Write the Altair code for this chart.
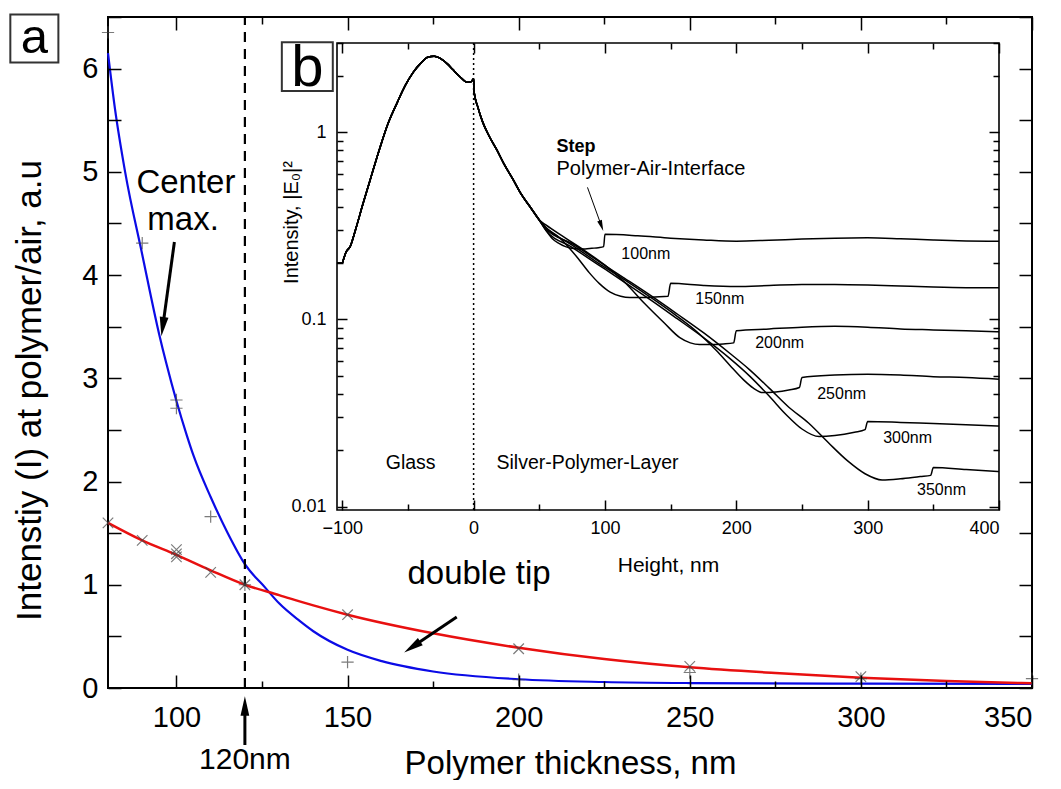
import altair as alt
import pandas as pd

FONT = "Liberation Sans"

# ---------------- panel (a): intensity vs polymer thickness ----------------
blue_x = [80, 82, 85, 90, 95, 97, 100, 103, 105, 110, 115, 120, 126, 130, 136, 140, 150, 160, 175, 200, 225, 250, 300, 350]
blue_y = [6.15, 5.62, 5.0, 4.2, 3.42, 3.15, 2.78, 2.45, 2.25, 1.85, 1.5, 1.2, 0.97, 0.82, 0.65, 0.55, 0.37, 0.26, 0.16, 0.085, 0.058, 0.048, 0.042, 0.04]
red_x = [80, 90, 100, 110, 120, 130, 140, 150, 175, 200, 225, 250, 275, 300, 325, 350]
red_y = [1.6, 1.43, 1.29, 1.14, 1.0, 0.9, 0.8, 0.71, 0.53, 0.39, 0.28, 0.2, 0.145, 0.1, 0.068, 0.045]
plus_x = [80, 90, 100, 100, 110, 120, 150, 200, 250, 300, 350]
plus_y = [6.35, 4.31, 2.79, 2.71, 1.66, 1.0, 0.25, 0.08, 0.15, 0.09, 0.09]
cross_x = [80, 90, 100, 100, 100, 110, 120, 150, 200, 250, 300]
cross_y = [1.6, 1.43, 1.34, 1.30, 1.27, 1.12, 1.0, 0.71, 0.38, 0.21, 0.11]
main_xticks = [100, 150, 200, 250, 300, 350]
main_xminor = [125, 175, 225, 275, 325]
main_ylabels = [0, 1, 2, 3, 4, 5, 6]
main_yticks = [0, 0.5, 1, 1.5, 2, 2.5, 3, 3.5, 4, 4.5, 5, 5.5, 6, 6.5]

# ---------------- panel (b): field intensity vs height ----------------
glass_x = [-104, -100, -99, -97, -94, -90, -84, -78, -71, -65, -58, -52, -46, -40, -35, -30, -26, -20, -16, -10, -5, -2, 0, 0.5, 3, 7, 12, 17.5, 23, 30, 36, 43, 50]
glass_y = [0.20, 0.20, 0.21, 0.23, 0.245, 0.30, 0.42, 0.58, 0.84, 1.12, 1.45, 1.78, 2.09, 2.35, 2.52, 2.55, 2.50, 2.32, 2.17, 1.97, 1.85, 1.86, 1.93, 1.62, 1.38, 1.13, 0.95, 0.81, 0.68, 0.56, 0.47, 0.40, 0.34]
series_names = ["100nm", "150nm", "200nm", "250nm", "300nm", "350nm"]
c100_x = [55, 60, 65, 70, 75, 80, 85, 90, 95, 99, 100, 125, 150, 175, 200, 225, 250, 275, 300, 325, 350, 375, 400]
c100_y = [0.30, 0.27, 0.255, 0.245, 0.24, 0.238, 0.238, 0.24, 0.242, 0.245, 0.285, 0.28, 0.272, 0.266, 0.262, 0.265, 0.269, 0.272, 0.273, 0.27, 0.266, 0.263, 0.262]
c150_x = [55, 65, 72, 80, 88, 96, 104, 112, 119, 128, 138, 148, 150, 175, 200, 225, 250, 275, 300, 325, 350, 375, 400]
c150_y = [0.31, 0.275, 0.245, 0.21, 0.178, 0.155, 0.14, 0.133, 0.131, 0.131, 0.132, 0.133, 0.156, 0.152, 0.150, 0.152, 0.154, 0.154, 0.153, 0.151, 0.149, 0.148, 0.148]
c200_x = [55, 70, 85, 100, 115, 130, 145, 157, 165, 172, 180, 190, 198, 200, 225, 250, 275, 300, 325, 350, 375, 400]
c200_y = [0.32, 0.272, 0.232, 0.195, 0.158, 0.122, 0.096, 0.08, 0.075, 0.0735, 0.0735, 0.074, 0.075, 0.087, 0.089, 0.091, 0.092, 0.091, 0.089, 0.088, 0.087, 0.086]
c250_x = [55, 75, 95, 115, 135, 155, 170, 185, 195, 205, 213, 220, 230, 240, 248, 250, 275, 300, 325, 350, 375, 400]
c250_y = [0.31, 0.25, 0.2, 0.163, 0.131, 0.104, 0.086, 0.068, 0.057, 0.048, 0.043, 0.0407, 0.041, 0.042, 0.0433, 0.049, 0.0505, 0.051, 0.0505, 0.0495, 0.049, 0.048]
c300_x = [55, 75, 95, 115, 135, 155, 175, 195, 210, 225, 238, 250, 263, 275, 290, 298, 300, 325, 350, 375, 400]
c300_y = [0.30, 0.243, 0.196, 0.158, 0.127, 0.101, 0.08, 0.062, 0.05, 0.039, 0.031, 0.026, 0.0237, 0.024, 0.025, 0.0258, 0.0285, 0.0282, 0.0278, 0.0274, 0.027]
c350_x = [55, 75, 95, 115, 135, 155, 175, 195, 210, 225, 240, 255, 270, 285, 298, 311, 325, 340, 348, 350, 375, 400]
c350_y = [0.305, 0.254, 0.205, 0.166, 0.134, 0.107, 0.085, 0.066, 0.054, 0.043, 0.034, 0.028, 0.022, 0.0175, 0.0150, 0.0139, 0.0141, 0.0145, 0.0147, 0.0162, 0.0158, 0.0154]
inset_xlabels = [-100, 0, 100, 200, 300, 400]
inset_xminor = [-50, 50, 150, 250, 350]
inset_ylabels = [0.01, 0.1, 1]
inset_yminor = [0.02, 0.03, 0.04, 0.05, 0.06, 0.07, 0.08, 0.09, 0.2, 0.3, 0.4, 0.5, 0.6, 0.7, 0.8, 0.9, 2, 3]

# ---------------- geometry ----------------
W, H = 924, 671
MX = alt.Scale(domain=[80, 350], nice=False, zero=False)
MY = alt.Scale(domain=[0, 6.5], nice=False, zero=False)
IXR = [229, 891]
IYR = [493, 26]
IX = alt.Scale(domain=[-104, 400], range=IXR, nice=False, zero=False)
IY = alt.Scale(type="log", domain=[0.0096, 3.0], range=IYR, nice=False)


def tick_axis(orient, offset, values, size):
    return alt.Axis(orient=orient, offset=offset, values=values, tickSize=size, ticks=True,
                    labels=False, domain=False, title=None, grid=False, tickColor="black",
                    tickWidth=1.5, zindex=2)


def axis_layer(df, xs, ys, xaxis, yaxis):
    return alt.Chart(df).mark_point(opacity=0).encode(
        x=alt.X("x:Q", scale=xs, axis=xaxis),
        y=alt.Y("y:Q", scale=ys, axis=yaxis),
    )


main_anchor = pd.DataFrame({"x": [200], "y": [3]})
inset_anchor = pd.DataFrame({"x": [100], "y": [0.1]})

# ---------------- main panel layers ----------------
df_blue = pd.DataFrame({"x": blue_x, "y": blue_y})
df_red = pd.DataFrame({"x": red_x, "y": red_y})
df_plus = pd.DataFrame({"x": plus_x, "y": plus_y})
df_cross = pd.DataFrame({"x": cross_x, "y": cross_y})

main_x_axis = alt.Axis(orient="bottom", values=main_xticks, ticks=False, tickSize=0, domain=False,
                       labelFontSize=29, labelFont=FONT, labelPadding=15, labelColor="black",
                       title="Polymer thickness, nm", titleFont=FONT, titleFontSize=33,
                       titleFontWeight="normal", titleColor="black", titleY=85,
                       titleBaseline="alphabetic", grid=False, zindex=2)
main_y_axis = alt.Axis(orient="left", values=main_ylabels, format="d", ticks=False, tickSize=0, domain=False,
                       labelFontSize=29, labelFont=FONT, labelPadding=10, labelColor="black",
                       title="Intenstiy (I) at polymer/air, a.u", titleFont=FONT, titleFontSize=35,
                       titleFontWeight="normal", titleColor="black", titleX=-79, titleY=373,
                       titleBaseline="middle", grid=False, zindex=2)

blue = alt.Chart(df_blue).mark_line(color="#0b0be6", strokeWidth=2.2, interpolate="monotone").encode(
    x=alt.X("x:Q", scale=MX, axis=main_x_axis),
    y=alt.Y("y:Q", scale=MY, axis=main_y_axis),
)
red = alt.Chart(df_red).mark_line(color="#e81010", strokeWidth=2.5, interpolate="monotone").encode(
    x="x:Q", y="y:Q")
PLUS = "M-1,0L1,0M0,-1L0,1"
CROSS = "M-1,-1L1,1M-1,1L1,-1"
plus = alt.Chart(df_plus).mark_point(shape=PLUS, filled=False, size=150, color="#444444", strokeWidth=1.2).encode(
    x="x:Q", y="y:Q")
cross = alt.Chart(df_cross).mark_point(shape=CROSS, filled=False, size=110, color="#444444", strokeWidth=1.2).encode(
    x="x:Q", y="y:Q")

vline = alt.Chart(pd.DataFrame({"x": [120], "y": [0], "y2": [6.5]})).mark_rule(
    color="black", strokeWidth=2.2, strokeDash=[10, 7]).encode(x="x:Q", y="y:Q", y2="y2:Q")

main_arrows = pd.DataFrame({
    "x": [99.4, 181.9, 120], "y": [4.32, 0.687, -0.552],
    "x2": [96.0, 168.9, 120], "y2": [3.50, 0.397, -0.174],
})
main_heads = pd.DataFrame({"x": [96.0, 168.9, 120], "y": [3.50, 0.397, -0.174], "a": [188, 236, 0]})
HEAD = "M0,-1L0.45,1L-0.45,1Z"
arrows = alt.Chart(main_arrows).mark_rule(color="black", strokeWidth=3).encode(
    x="x:Q", y="y:Q", x2="x2:Q", y2="y2:Q")
heads = alt.Chart(main_heads).mark_point(shape=HEAD, filled=True, size=380, color="black", opacity=1).encode(
    x="x:Q", y="y:Q", angle=alt.Angle("a:Q", scale=None))

main_text = pd.DataFrame({
    "x": [88.3, 91.5, 167.5],
    "y": [4.89, 4.53, 1.10],
    "t": ["Center", "max.", "double tip"],
})
texts_l = alt.Chart(main_text).mark_text(align="left", baseline="middle", fontSize=33, font=FONT,
                                         color="black").encode(x="x:Q", y="y:Q", text="t:N")
texts_c = alt.Chart(pd.DataFrame({"x": [120], "y": [-0.70], "t": ["120nm"]})).mark_text(
    align="center", baseline="middle", fontSize=30, font=FONT, color="black").encode(
    x="x:Q", y="y:Q", text="t:N")

box_a = alt.Chart(pd.DataFrame({"x": [51.46], "x2": [65.5], "y": [6.06], "y2": [6.525]})).mark_rect(
    fill="white", stroke="#333333", strokeWidth=2).encode(x="x:Q", x2="x2:Q", y="y:Q", y2="y2:Q")
text_a = alt.Chart(pd.DataFrame({"x": [58.48], "y": [6.147], "t": ["a"]})).mark_text(
    align="center", baseline="alphabetic", fontSize=49, font=FONT, color="black").encode(
    x="x:Q", y="y:Q", text="t:N")

M = alt.layer(blue, red, vline, plus, cross, arrows, heads, texts_l, texts_c, box_a, text_a)

T1 = axis_layer(main_anchor, MX, MY, tick_axis("top", -H, main_xticks, 13), tick_axis("right", -W, main_yticks, 13))
T2 = axis_layer(main_anchor, MX, MY, tick_axis("bottom", -H, main_xticks, 13), tick_axis("left", -W, main_yticks, 13))
T3 = axis_layer(main_anchor, MX, MY, tick_axis("top", -H, main_xminor, 7), None)
T4 = axis_layer(main_anchor, MX, MY, tick_axis("bottom", -H, main_xminor, 7), None)

# ---------------- inset layers ----------------
rows = []
curves = [(c100_x, c100_y), (c150_x, c150_y), (c200_x, c200_y), (c250_x, c250_y), (c300_x, c300_y), (c350_x, c350_y)]
for name, (cx, cy) in zip(series_names, curves):
    xs = glass_x + cx
    ys = glass_y + cy
    for i, (a, b) in enumerate(zip(xs, ys)):
        rows.append({"x": a, "y": b, "s": name, "o": i})
df_inset = pd.DataFrame(rows)

inset_x_axis = alt.Axis(orient="bottom", offset=-(H - IYR[0]), values=inset_xlabels, ticks=False, tickSize=0,
                        domain=False, labelFontSize=18, labelFont=FONT, labelPadding=9, labelColor="black",
                        title="Height, nm", titleFont=FONT, titleFontSize=21, titleFontWeight="normal",
                        titleColor="black", titleY=55, titleBaseline="middle", grid=False, zindex=2)
inset_y_axis = alt.Axis(orient="left", offset=-IXR[0], values=inset_ylabels, format="~g", ticks=False,
                        tickSize=0, domain=False, labelFontSize=18, labelFont=FONT, labelPadding=11,
                        labelColor="black", title="Intensity, |E₀|²", titleFont=FONT, titleFontSize=20,
                        titleFontWeight="normal", titleColor="black", titleX=-46, titleY=205,
                        titleBaseline="middle", grid=False, zindex=2)

frame = alt.Chart(pd.DataFrame({"x": [-104], "x2": [400], "y": [0.0096], "y2": [3.0]})).mark_rect(
    fill="white", stroke="black", strokeWidth=1.6).encode(
    x=alt.X("x:Q", scale=IX, axis=inset_x_axis),
    x2="x2:Q",
    y=alt.Y("y:Q", scale=IY, axis=inset_y_axis),
    y2="y2:Q",
)
inset_lines = alt.Chart(df_inset).mark_line(color="black", strokeWidth=1.5, interpolate="monotone").encode(
    x="x:Q", y="y:Q", detail="s:N", order="o:Q")
dotted = alt.Chart(pd.DataFrame({"x": [0], "y": [0.0096], "y2": [3.0]})).mark_rule(
    color="black", strokeWidth=1.5, strokeDash=[2, 3]).encode(x="x:Q", y="y:Q", y2="y2:Q")

inset_lbl = pd.DataFrame({
    "x": [112.5, 168.8, 214.4, 261.6, 311.8, 337.6],
    "y": [0.223, 0.128, 0.0745, 0.0402, 0.0234, 0.0123],
    "t": series_names,
})
lbls = alt.Chart(inset_lbl).mark_text(align="left", baseline="middle", fontSize=16, font=FONT,
                                      color="black").encode(x="x:Q", y="y:Q", text="t:N")
region = alt.Chart(pd.DataFrame({"x": [-47.9, 86.7], "y": [0.0172, 0.0172],
                                 "t": ["Glass", "Silver-Polymer-Layer"]})).mark_text(
    align="center", baseline="middle", fontSize=19.5, font=FONT, color="black").encode(
    x="x:Q", y="y:Q", text="t:N")
step_b = alt.Chart(pd.DataFrame({"x": [63.1], "y": [0.83], "t": ["Step"]})).mark_text(
    align="left", baseline="middle", fontSize=18, font=FONT, fontWeight="bold", color="black").encode(
    x="x:Q", y="y:Q", text="t:N")
step_t = alt.Chart(pd.DataFrame({"x": [63.1], "y": [0.634], "t": ["Polymer-Air-Interface"]})).mark_text(
    align="left", baseline="middle", fontSize=20, font=FONT, color="black").encode(
    x="x:Q", y="y:Q", text="t:N")
step_arrow = alt.Chart(pd.DataFrame({"x": [86.7], "y": [0.508], "x2": [97.3], "y2": [0.3165]})).mark_rule(
    color="black", strokeWidth=1).encode(x="x:Q", y="y:Q", x2="x2:Q", y2="y2:Q")
step_head = alt.Chart(pd.DataFrame({"x": [97.3], "y": [0.3165], "a": [160]})).mark_point(
    shape=HEAD, filled=True, size=120, color="black", opacity=1).encode(
    x="x:Q", y="y:Q", angle=alt.Angle("a:Q", scale=None))
box_b = alt.Chart(pd.DataFrame({"x": [-146.0], "x2": [-107.2], "y": [1.66], "y2": [3.03]})).mark_rect(
    fill="white", stroke="#333333", strokeWidth=2).encode(x="x:Q", x2="x2:Q", y="y:Q", y2="y2:Q")
text_b = alt.Chart(pd.DataFrame({"x": [-126.6], "y": [1.76], "t": ["b"]})).mark_text(
    align="center", baseline="alphabetic", fontSize=58, font=FONT, color="black").encode(
    x="x:Q", y="y:Q", text="t:N")

I = alt.layer(frame, dotted, inset_lines, lbls, region, step_b, step_t, step_arrow, step_head, box_b, text_b)

IT1 = axis_layer(inset_anchor, IX, IY, tick_axis("top", -IYR[0], inset_xlabels, 10),
                 tick_axis("right", IXR[0] - W, inset_ylabels, 10))
IT2 = axis_layer(inset_anchor, IX, IY, tick_axis("bottom", IYR[1] - H, inset_xlabels, 10),
                 tick_axis("left", -IXR[1], inset_ylabels, 10))
IT3 = axis_layer(inset_anchor, IX, IY, tick_axis("top", -IYR[0], inset_xminor, 6),
                 tick_axis("right", IXR[0] - W, inset_yminor, 6))
IT4 = axis_layer(inset_anchor, IX, IY, tick_axis("bottom", IYR[1] - H, inset_xminor, 6),
                 tick_axis("left", -IXR[1], inset_yminor, 6))

chart = alt.layer(M, T1, T2, T3, T4, I, IT1, IT2, IT3, IT4).resolve_scale(
    x="independent", y="independent"
).properties(
    width=W, height=H,
    autosize=alt.AutoSizeParams(type="none"),
    padding={"left": 100, "top": 9, "right": 20, "bottom": 92},
    background="white",
).configure_view(stroke="black", strokeWidth=2).configure_axis(grid=False)

chart.save("out.html", embed_options={"renderer": "svg", "actions": False})
